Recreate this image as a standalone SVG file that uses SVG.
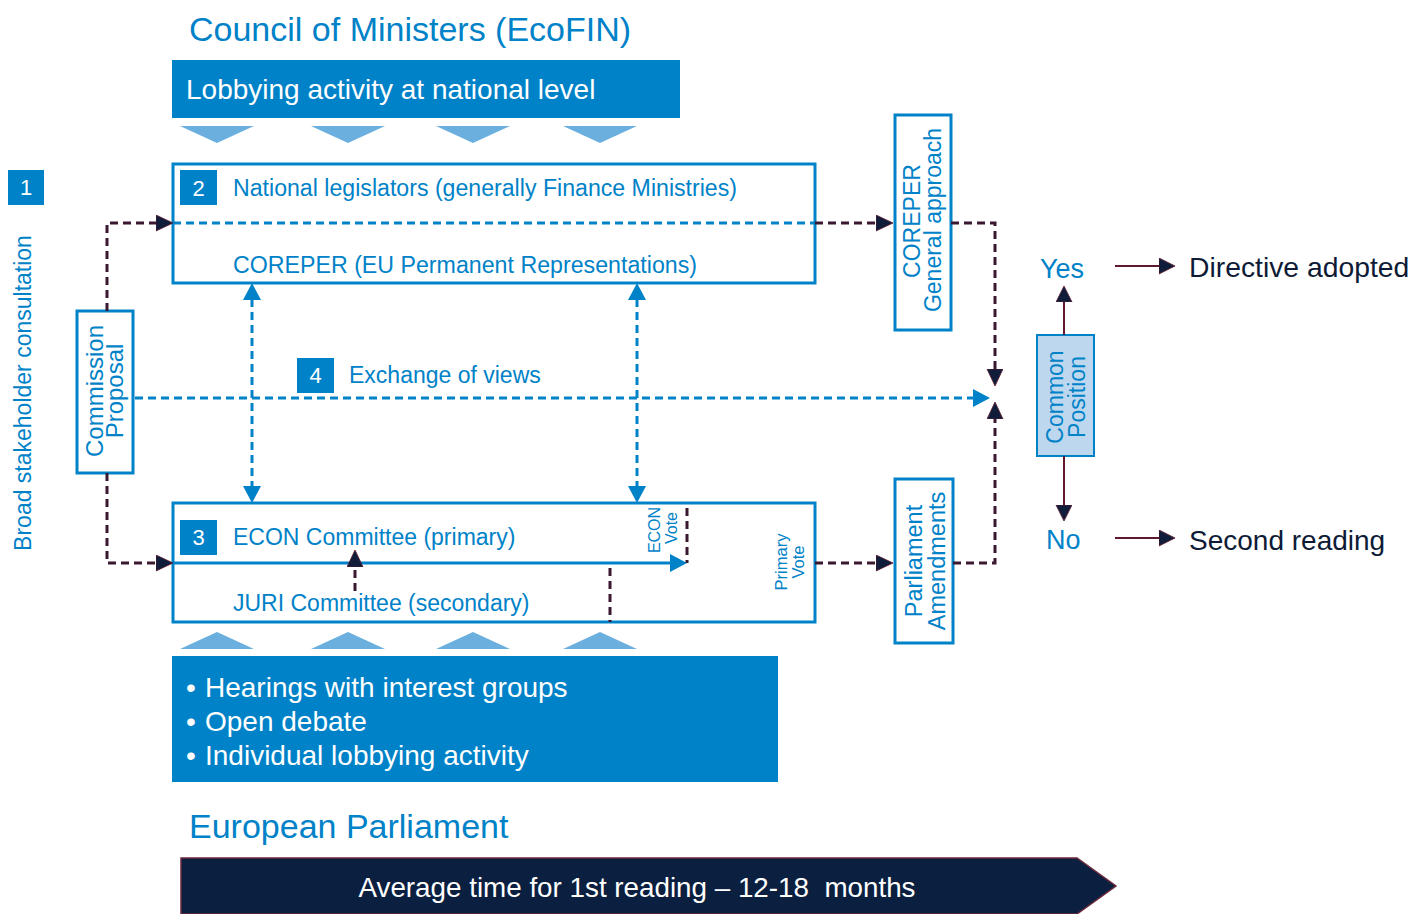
<svg xmlns="http://www.w3.org/2000/svg" width="1427" height="914" viewBox="0 0 1427 914">
  <style>
    text { font-family: "Liberation Sans", Arial, sans-serif; }
    .blue { fill: #0082C8; }
    .navy { fill: #0E1B36; }
    .white { fill: #FFFFFF; }
    .frame { fill: #FFFFFF; stroke: #0082C8; stroke-width: 3; }
    .badge { fill: #0082C8; }
    .chev { fill: #6BAFDF; }
    .dash-dark { fill: none; stroke: #3A1830; stroke-width: 3; stroke-dasharray: 8 5; }
    .dash-blue { fill: none; stroke: #0082C8; stroke-width: 3; stroke-dasharray: 8 5; }
    .solid-blue { fill: none; stroke: #0082C8; stroke-width: 3; }
    .solid-dark { fill: none; stroke: #5E1A2C; stroke-width: 2; }
  </style>
  <defs>
    <marker id="ah-dark" markerUnits="userSpaceOnUse" markerWidth="20" markerHeight="18" refX="1" refY="8" orient="auto-start-reverse">
      <path d="M0,0 L17,8 L0,16 Z" fill="#0F1D3A" stroke="#5E1A2C" stroke-width="0.8"/>
    </marker>
    <marker id="ah-blue" markerUnits="userSpaceOnUse" markerWidth="20" markerHeight="20" refX="1" refY="9" orient="auto-start-reverse">
      <path d="M0,0 L17,9 L0,18 Z" fill="#0082C8"/>
    </marker>
    <marker id="ah-solid" markerUnits="userSpaceOnUse" markerWidth="20" markerHeight="18" refX="1" refY="8" orient="auto-start-reverse">
      <path d="M0,0 L16,8 L0,16 Z" fill="#0F1D3A" stroke="#5E1A2C" stroke-width="0.8"/>
    </marker>
  </defs>

  <!-- Council side header -->
  <g id="council-title">
    <text x="189" y="41" font-size="34" class="blue">Council of Ministers (EcoFIN)</text>
  </g>
  <g id="national-lobbying">
    <rect x="172" y="60" width="508" height="58" fill="#0082C8"/>
    <text x="186" y="99" font-size="28" class="white">Lobbying activity at national level</text>
    <polygon class="chev" points="180,126 254,126 217,143"/>
    <polygon class="chev" points="311,126 385,126 348,143"/>
    <polygon class="chev" points="436,126 510,126 473,143"/>
    <polygon class="chev" points="563,126 637,126 600,143"/>
  </g>

  <!-- Step 1: stakeholder consultation -->
  <g id="step1">
    <rect class="badge" x="8" y="170" width="36" height="35"/>
    <text x="26" y="195" font-size="22" class="white" text-anchor="middle">1</text>
    <text transform="translate(31,393) rotate(-90)" font-size="23" class="blue" text-anchor="middle">Broad stakeholder consultation</text>
  </g>

  <g id="commission-proposal">
    <rect class="frame" x="77" y="311" width="56" height="162"/>
    <text transform="translate(103,391) rotate(-90)" font-size="24" class="blue" text-anchor="middle">Commission</text>
    <text transform="translate(123,391) rotate(-90)" font-size="24" class="blue" text-anchor="middle">Proposal</text>
  </g>

  <!-- Step 2: Council -->
  <g id="council-box">
    <rect class="frame" x="173" y="164" width="642" height="119"/>
    <rect class="badge" x="180" y="170" width="37" height="35"/>
    <text x="198.5" y="196" font-size="22" class="white" text-anchor="middle">2</text>
    <text x="233" y="196" font-size="23" class="blue" textLength="504" lengthAdjust="spacingAndGlyphs">National legislators (generally Finance Ministries)</text>
    <text x="233" y="273" font-size="23" class="blue" textLength="464" lengthAdjust="spacingAndGlyphs">COREPER (EU Permanent Representations)</text>
  </g>

  <g id="coreper-general">
    <rect class="frame" x="895" y="115" width="56" height="215"/>
    <text transform="translate(920,221) rotate(-90)" font-size="23" class="blue" text-anchor="middle">COREPER</text>
    <text transform="translate(941,220) rotate(-90)" font-size="23" class="blue" text-anchor="middle">General approach</text>
  </g>

  <!-- Step 4: exchange of views -->
  <g id="step4">
    <rect class="badge" x="297" y="358" width="37" height="35"/>
    <text x="315.5" y="383" font-size="22" class="white" text-anchor="middle">4</text>
    <text x="349" y="383" font-size="23" class="blue">Exchange of views</text>
  </g>

  <!-- Step 3: Parliament committees -->
  <g id="parliament-box">
    <rect class="frame" x="173" y="503" width="642" height="119"/>
    <rect class="badge" x="180" y="520" width="37" height="35"/>
    <text x="198.5" y="545" font-size="22" class="white" text-anchor="middle">3</text>
    <text x="233" y="545" font-size="23" class="blue">ECON Committee (primary)</text>
    <text x="233" y="611" font-size="23" class="blue">JURI Committee (secondary)</text>
    <text transform="translate(660,530) rotate(-90)" font-size="16" class="blue" text-anchor="middle">ECON</text>
    <text transform="translate(677,528) rotate(-90)" font-size="16" class="blue" text-anchor="middle">Vote</text>
    <text transform="translate(787,562) rotate(-90)" font-size="16.5" class="blue" text-anchor="middle">Primary</text>
    <text transform="translate(804,562) rotate(-90)" font-size="16.5" class="blue" text-anchor="middle">Vote</text>
  </g>

  <g id="parliament-amendments">
    <rect class="frame" x="895" y="479" width="58" height="164"/>
    <text transform="translate(922,561) rotate(-90)" font-size="23.5" class="blue" text-anchor="middle">Parliament</text>
    <text transform="translate(945,561) rotate(-90)" font-size="23.5" class="blue" text-anchor="middle">Amendments</text>
  </g>

  <g id="common-position">
    <rect x="1037" y="335" width="57" height="121" fill="#BDD7EE" stroke="#0082C8" stroke-width="2"/>
    <text transform="translate(1063,397) rotate(-90)" font-size="23" class="blue" text-anchor="middle">Common</text>
    <text transform="translate(1085,397) rotate(-90)" font-size="23" class="blue" text-anchor="middle">Position</text>
  </g>

  <g id="outcome-yes">
    <text x="1040" y="278" font-size="27" class="blue">Yes</text>
    <text x="1189" y="277" font-size="28.3" class="navy">Directive adopted</text>
  </g>
  <g id="outcome-no">
    <text x="1046" y="549" font-size="27" class="blue">No</text>
    <text x="1189" y="550" font-size="28" class="navy">Second reading</text>
  </g>

  <!-- Parliament side -->
  <g id="parliament-lobbying">
    <polygon class="chev" points="180,649 254,649 217,632"/>
    <polygon class="chev" points="311,649 385,649 348,632"/>
    <polygon class="chev" points="436,649 510,649 473,632"/>
    <polygon class="chev" points="563,649 637,649 600,632"/>
    <rect x="172" y="656" width="606" height="126" fill="#0082C8"/>
    <text font-size="28" class="white">
      <tspan x="186" y="697">•</tspan><tspan x="205" y="697">Hearings with interest groups</tspan>
      <tspan x="186" y="731">•</tspan><tspan x="205" y="731">Open debate</tspan>
      <tspan x="186" y="765">•</tspan><tspan x="205" y="765">Individual lobbying activity</tspan>
    </text>
  </g>
  <g id="parliament-title">
    <text x="189" y="838" font-size="34" class="blue">European Parliament</text>
  </g>

  <g id="timeline">
    <polygon points="181,858 1077,858 1116,886 1077,914 181,914" fill="#0B1F40" stroke="#6B2A3A" stroke-width="1.5"/>
    <text x="637" y="897" font-size="28" class="white" text-anchor="middle" xml:space="preserve" textLength="557" lengthAdjust="spacingAndGlyphs">Average time for 1st reading – 12-18  months</text>
  </g>

  <!-- Connectors -->
  <g id="connectors">
    <!-- Council internal split -->
    <path class="dash-blue" d="M173,223 H815"/>
    <!-- Commission proposal to both institutions -->
    <path class="dash-dark" d="M107,311 V223 H157" marker-end="url(#ah-dark)"/>
    <path class="dash-dark" d="M107,473 V563 H157" marker-end="url(#ah-dark)"/>
    <!-- Exchange of views -->
    <path class="dash-blue" d="M135,398 H974" marker-end="url(#ah-blue)"/>
    <path class="dash-blue" d="M252,299 V487" marker-start="url(#ah-blue)" marker-end="url(#ah-blue)"/>
    <path class="dash-blue" d="M637,299 V487" marker-start="url(#ah-blue)" marker-end="url(#ah-blue)"/>
    <!-- Committee flow -->
    <path class="solid-blue" d="M173,563 H671" marker-end="url(#ah-blue)"/>
    <path class="dash-dark" d="M355,591 V566" marker-end="url(#ah-dark)"/>
    <path class="dash-dark" d="M610,568 V622"/>
    <path class="dash-dark" d="M687,508 V563"/>
    <!-- Towards the common position -->
    <path class="dash-dark" d="M815,223 H877" marker-end="url(#ah-dark)"/>
    <path class="dash-dark" d="M815,563 H877" marker-end="url(#ah-dark)"/>
    <path class="dash-dark" d="M951,223 H995 V370" marker-end="url(#ah-dark)"/>
    <path class="dash-dark" d="M953,563 H995 V418" marker-end="url(#ah-dark)"/>
    <!-- Outcomes -->
    <path class="solid-dark" d="M1064,335 V301" marker-end="url(#ah-solid)"/>
    <path class="solid-dark" d="M1064,456 V506" marker-end="url(#ah-solid)"/>
    <path class="solid-dark" d="M1115,266 H1160" marker-end="url(#ah-solid)"/>
    <path class="solid-dark" d="M1115,538 H1160" marker-end="url(#ah-solid)"/>
  </g>
</svg>
